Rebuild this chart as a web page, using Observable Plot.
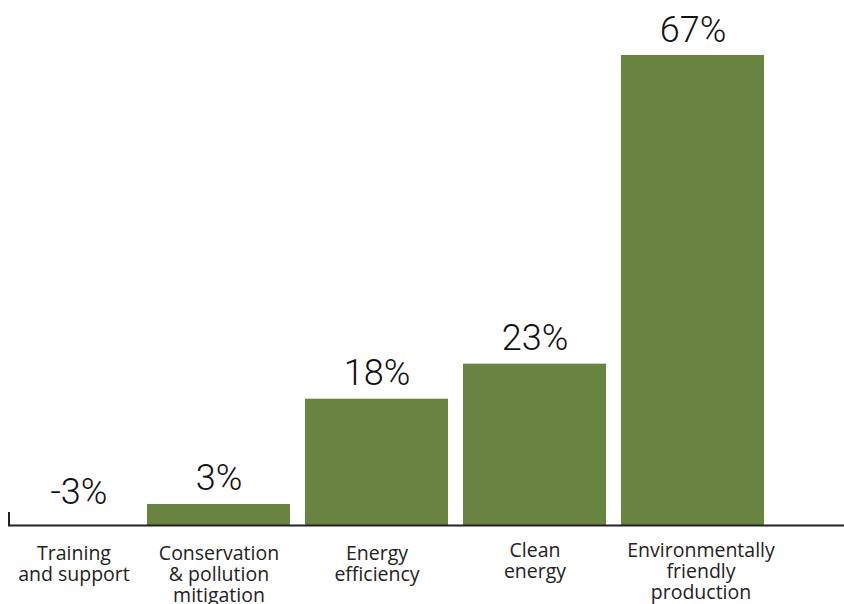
<!DOCTYPE html>
<html>
<head>
<meta charset="utf-8">
<script src="https://cdn.jsdelivr.net/npm/d3@7"></script>
<script src="https://cdn.jsdelivr.net/npm/@observablehq/plot@0.6"></script>
<style>
  html, body { margin: 0; padding: 0; background: #fff; }
  #chart svg { display: block; }
</style>
</head>
<body>
<div id="chart"></div>
<script>
const categories = [
  "Training and support",
  "Conservation & pollution mitigation",
  "Energy efficiency",
  "Clean energy",
  "Environmentally friendly production"
];
const tickLabels = [
  "Training\nand support",
  "Conservation\n& pollution\nmitigation",
  "Energy\nefficiency",
  "Clean\nenergy",
  "Environmentally\nfriendly\nproduction"
];
const values = [-3, 3, 18, 23, 67];

const data = categories.map((c, i) => ({cat: c, label: tickLabels[i], value: values[i]}));
const barColor = "#698341";
const stubHeight = 1.85;
const labelFont = "'Open Sans', 'Noto Sans', sans-serif";
const valueFont = "Roboto, 'Liberation Sans', sans-serif";

const plot = Plot.plot({
  width: 844,
  height: 604,
  marginLeft: 8,
  marginRight: 0,
  marginTop: 55,
  marginBottom: 79,
  style: {fontFamily: valueFont, background: "#fff"},
  x: {domain: categories, range: [-12.5, 765], paddingInner: 0.095, paddingOuter: 0, axis: null},
  y: {domain: [0, d3.max(values)], axis: null},
  marks: [
    Plot.barY(data, {x: "cat", y: "value", fill: barColor, clip: true}),
    Plot.ruleY([0], {stroke: "#222", strokeWidth: 2}),
    Plot.ruleY([0], {
      render: (I, scales, values, dims) => {
        return d3.create("svg:line")
          .attr("x1", dims.marginLeft + 1).attr("x2", dims.marginLeft + 1)
          .attr("y1", scales.y(0) + 1).attr("y2", scales.y(stubHeight))
          .attr("stroke", "#222").attr("stroke-width", 2).node();
      }
    }),
    // value labels
    Plot.text(data.filter(d => d.value >= 0), {
      x: "cat", y: "value", text: d => `${d.value}%`,
      lineAnchor: "bottom", dy: -14, fontSize: 36, fontWeight: 300, fill: "#111"
    }),
    Plot.text(data.filter(d => d.value < 0), {
      x: "cat", y: 0, text: d => `${d.value}%`,
      lineAnchor: "bottom", dy: -22, dx: 18, fontSize: 36, fontWeight: 300, fill: "#111"
    }),
    // category labels
    Plot.text(data.slice(1, 3), {
      x: "cat", y: 0, text: "label", fontFamily: labelFont,
      lineAnchor: "top", dy: 20, fontSize: 19.5, lineHeight: 1.07, fill: "#222"
    }),
    Plot.text(data.slice(3, 4), {
      x: "cat", y: 0, text: "label", fontFamily: labelFont,
      lineAnchor: "top", dy: 17, fontSize: 19.5, lineHeight: 1.07, fill: "#222"
    }),
    Plot.text(data.slice(0, 1), {
      x: "cat", y: 0, text: "label", fontFamily: labelFont,
      lineAnchor: "top", dy: 20, dx: 13, fontSize: 19.5, lineHeight: 1.07, fill: "#222"
    }),
    Plot.text(data.slice(4), {
      x: "cat", y: 0, text: "label", fontFamily: labelFont,
      lineAnchor: "top", dy: 17, dx: 8, fontSize: 19.5, lineHeight: 1.07, fill: "#222"
    })
  ]
});
document.getElementById("chart").append(plot);
</script>
</body>
</html>
